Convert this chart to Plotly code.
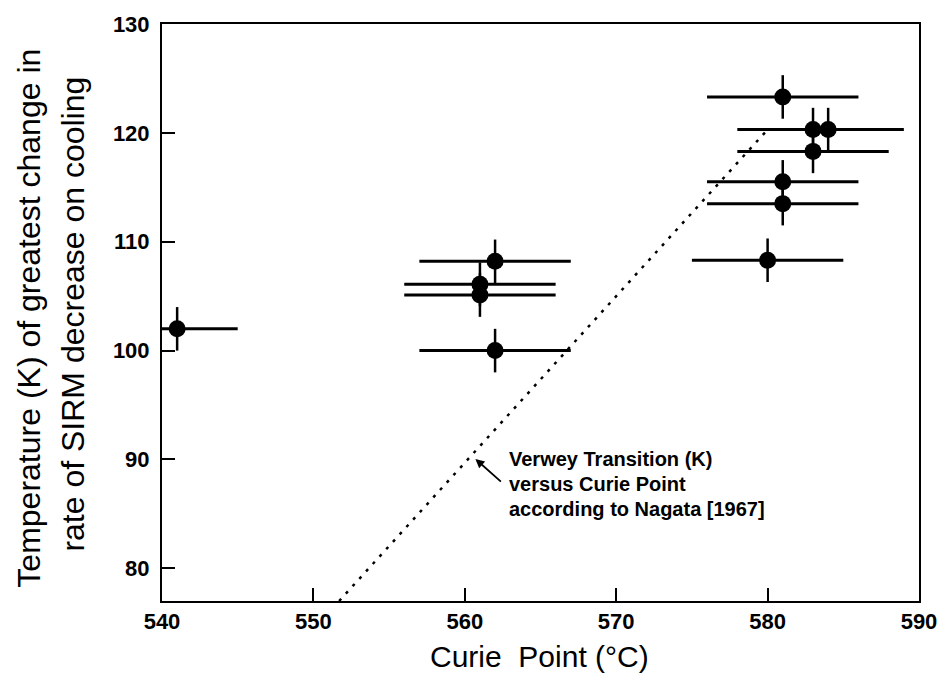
import plotly.graph_objects as go

# Curie point (°C) and temperature of greatest change in SIRM decrease rate (K)
curie_point = [541, 562, 561, 561, 562, 581, 583, 584, 583, 581, 581, 580]
transition_temp = [102.0, 108.2, 106.1, 105.1, 100.0, 123.3, 120.3, 120.3, 118.3, 115.5, 113.5, 108.3]
curie_err = [4, 5, 5, 5, 5, 5, 5, 5, 5, 5, 5, 5]
temp_err = [2, 2, 2, 2, 2, 2, 2, 2, 2, 2, 2, 2]

# Nagata [1967] Verwey transition vs Curie point relation
nagata_x = [551.7, 580.0]
nagata_y = [77.0, 120.3]

x_ticks = [540, 550, 560, 570, 580, 590]
y_ticks = [80, 90, 100, 110, 120, 130]

note_lines = ["Verwey Transition (K)", "versus Curie Point", "according to Nagata [1967]"]
y_title_lines = ["Temperature (K) of greatest change in", "rate of SIRM decrease on cooling"]
x_title = "Curie  Point (°C)"

FONT = "Liberation Sans, Arial, Helvetica, sans-serif"

# Figure and plot-area geometry in pixels
W, H = 949, 683
L, R, T, B = 162, 29, 21, 82
pw, ph = W - L - R, H - T - B


def px_x(p):
    return (p - L) / pw


def px_y(p):
    return (H - B - p) / ph


fig = go.Figure()

fig.add_trace(go.Scatter(
    x=nagata_x, y=nagata_y, mode="lines",
    line=dict(color="black", width=2.5, dash="3px,7px"),
    hoverinfo="skip", showlegend=False,
))

fig.add_trace(go.Scatter(
    x=curie_point, y=transition_temp, mode="markers",
    marker=dict(color="black", size=17, line=dict(width=0)),
    error_x=dict(type="data", array=curie_err, symmetric=True,
                 color="black", thickness=3, width=0),
    error_y=dict(type="data", array=temp_err, symmetric=True,
                 color="black", thickness=2.5, width=0),
    showlegend=False,
))

axis_common = dict(
    showline=True, linecolor="black", linewidth=2, mirror=True,
    ticks="inside", tickcolor="black", tickwidth=2, ticklen=13,
    showgrid=False, zeroline=False,
    tickfont=dict(family=FONT, size=22, color="black", weight="bold"),
)

fig.update_xaxes(range=[540, 590], tickvals=x_ticks, ticklabelstandoff=0, **axis_common)
fig.update_yaxes(range=[77, 130], tickvals=y_ticks, ticklabelstandoff=6, **axis_common)

# Arrow pointing at the Nagata line
fig.add_annotation(
    x=560.7, y=90.05, xref="x", yref="y", text="",
    showarrow=True, arrowhead=2, arrowsize=1, arrowwidth=1.8, arrowcolor="black",
    ax=27, ay=24,
)

note_tops = [445, 470, 495]
for line, top in zip(note_lines, note_tops):
    fig.add_annotation(
        x=px_x(507), y=px_y(top), xref="paper", yref="paper", text=line,
        showarrow=False, xanchor="left", yanchor="top",
        font=dict(family=FONT, size=20, color="black", weight="bold"),
    )

# y-axis title, two rotated lines
for line, cx, cy in zip(y_title_lines, [29, 73], [317, 313]):
    fig.add_annotation(
        x=px_x(cx), y=px_y(cy), xref="paper", yref="paper", text=line,
        textangle=-90, showarrow=False, xanchor="center", yanchor="middle",
        font=dict(family=FONT, size=32, color="black"),
    )

fig.add_annotation(
    x=px_x(540), y=px_y(638), xref="paper", yref="paper", text=x_title,
    showarrow=False, xanchor="center", yanchor="top",
    font=dict(family=FONT, size=30, color="black"),
)

fig.update_layout(
    width=W, height=H,
    margin=dict(l=L, r=R, t=T, b=B),
    paper_bgcolor="white", plot_bgcolor="white",
    font=dict(family=FONT, color="black"),
)

fig.write_html("out.html")
